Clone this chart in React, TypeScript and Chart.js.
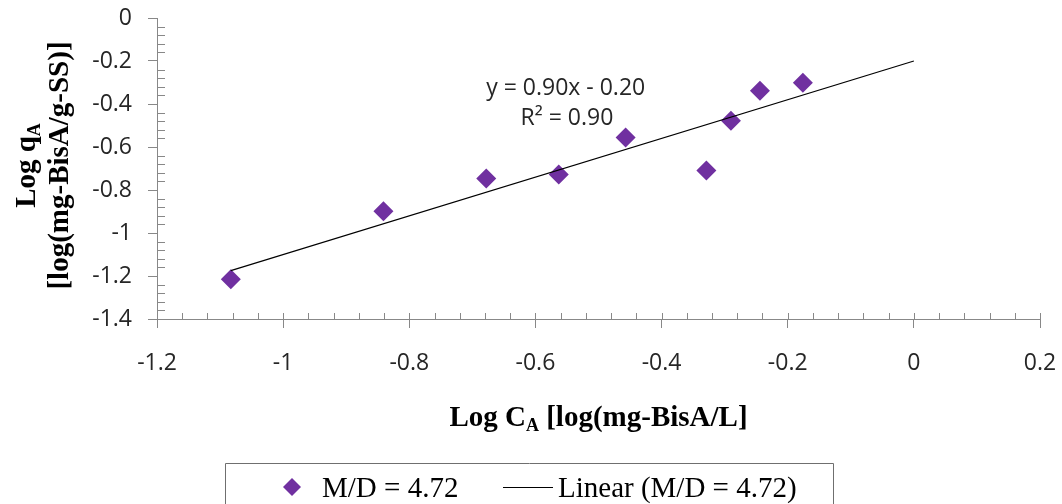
import React, { useEffect, useRef } from 'react';
import { Chart, registerables } from 'chart.js';

Chart.register(...registerables);

// ---- data ----
const LOG_CA = [-1.083, -0.841, -0.678, -0.563, -0.457, -0.329, -0.29, -0.244, -0.176];
const LOG_QA = [-1.215, -0.899, -0.746, -0.728, -0.556, -0.709, -0.478, -0.338, -0.301];
const SERIES_LABEL = 'M/D = 4.72';
const TREND_LABEL = 'Linear (M/D = 4.72)';
const SLOPE = 0.9;
const INTERCEPT = -0.2;
const TREND_X_END = 0;
const EQUATION_LINES = ['y = 0.90x - 0.20', 'R² = 0.90'];
const X_RANGE = [-1.2, 0.2];
const Y_RANGE = [-1.4, 0];
const MAJOR_STEP = 0.2;
const MINOR_STEP = 0.04;

const PURPLE = '#7030A0';
const AXIS_GRAY = '#888888';
const TEXT_DARK = '#262626';
const SERIF = '"Liberation Serif", "Times New Roman", serif';
const SANS = '"Open Sans", "Noto Sans", sans-serif';

type Part = { text: string; sub?: boolean };

function drawRich(ctx: CanvasRenderingContext2D, parts: Part[], cx: number, cy: number, size: number, weight: string) {
  const subSize = Math.round(size * 0.62);
  let total = 0;
  const widths = parts.map((p) => {
    ctx.font = `${weight} ${p.sub ? subSize : size}px ${SERIF}`;
    const w = ctx.measureText(p.text).width;
    total += w;
    return w;
  });
  let x = cx - total / 2;
  ctx.textAlign = 'left';
  ctx.textBaseline = 'alphabetic';
  const base = cy + size * 0.33;
  parts.forEach((p, i) => {
    ctx.font = `${weight} ${p.sub ? subSize : size}px ${SERIF}`;
    ctx.fillText(p.text, x, p.sub ? base + size * 0.2 : base);
    x += widths[i];
  });
}

const decorPlugin = {
  id: 'decor',
  afterDraw(chart: any) {
    const ctx: CanvasRenderingContext2D = chart.ctx;
    const xs = chart.scales.x;
    const ys = chart.scales.y;
    const area = chart.chartArea;
    ctx.save();
    // minor / inner ticks
    ctx.strokeStyle = AXIS_GRAY;
    ctx.lineWidth = 1;
    ctx.beginPath();
    const nx = Math.round((X_RANGE[1] - X_RANGE[0]) / MINOR_STEP);
    for (let i = 0; i <= nx; i++) {
      const v = X_RANGE[0] + i * MINOR_STEP;
      const px = Math.round(xs.getPixelForValue(v)) + 0.5;
      ctx.moveTo(px, area.bottom);
      ctx.lineTo(px, area.bottom - 6);
    }
    const ny = Math.round((Y_RANGE[1] - Y_RANGE[0]) / MINOR_STEP);
    for (let i = 0; i <= ny; i++) {
      if (i % 5 === 0) continue;
      const v = Y_RANGE[0] + i * MINOR_STEP;
      const py = Math.round(ys.getPixelForValue(v)) + 0.5;
      ctx.moveTo(area.left, py);
      ctx.lineTo(area.left + 8, py);
    }
    ctx.stroke();

    // equation annotation
    ctx.fillStyle = TEXT_DARK;
    ctx.font = `23px ${SANS}`;
    ctx.textAlign = 'center';
    ctx.textBaseline = 'middle';
    ctx.fillText(EQUATION_LINES[0], xs.getPixelForValue(-0.552), ys.getPixelForValue(-0.327));
    ctx.fillText(EQUATION_LINES[1], xs.getPixelForValue(-0.55), ys.getPixelForValue(-0.467));

    // axis titles
    ctx.fillStyle = '#000000';
    drawRich(ctx, [{ text: 'Log C' }, { text: 'A', sub: true }, { text: ' [log(mg-BisA/L]' }], (area.left + area.right) / 2, 416, 29, 'bold');
    ctx.save();
    ctx.translate(25, (area.top + area.bottom) / 2 - 3);
    ctx.rotate(-Math.PI / 2);
    drawRich(ctx, [{ text: 'Log q' }, { text: 'A', sub: true }], 0, 0, 29, 'bold');
    ctx.restore();
    ctx.save();
    ctx.translate(58, (area.top + area.bottom) / 2 - 3);
    ctx.rotate(-Math.PI / 2);
    drawRich(ctx, [{ text: '[log(mg-BisA/g-SS)]' }], 0, 0, 29, 'bold');
    ctx.restore();

    // legend
    ctx.strokeStyle = '#6f6f6f';
    ctx.lineWidth = 1;
    ctx.beginPath();
    ctx.moveTo(225.5, 520);
    ctx.lineTo(225.5, 463.5);
    ctx.lineTo(833.5, 463.5);
    ctx.lineTo(833.5, 520);
    ctx.stroke();
    const ly = 487;
    ctx.fillStyle = PURPLE;
    ctx.beginPath();
    ctx.moveTo(292, ly - 9);
    ctx.lineTo(301, ly);
    ctx.lineTo(292, ly + 9);
    ctx.lineTo(283, ly);
    ctx.closePath();
    ctx.fill();
    ctx.fillStyle = '#000000';
    ctx.font = `29px ${SERIF}`;
    ctx.textAlign = 'left';
    ctx.textBaseline = 'alphabetic';
    ctx.fillText(chart.data.datasets[0].label, 322, ly + 10);
    ctx.strokeStyle = '#000000';
    ctx.beginPath();
    ctx.moveTo(503, ly + 0.5);
    ctx.lineTo(553, ly + 0.5);
    ctx.stroke();
    ctx.fillText(chart.data.datasets[1].label, 558, ly + 10);
    ctx.restore();
  },
};

function fmt(v: number) {
  return String(Number(Number(v).toFixed(2)));
}

export default function App() {
  const ref = useRef<HTMLCanvasElement | null>(null);
  useEffect(() => {
    if (!ref.current) return;
    const points = LOG_CA.map((x, i) => ({ x, y: LOG_QA[i] }));
    const xMin = Math.min(...LOG_CA);
    const trend = [
      { x: xMin, y: SLOPE * xMin + INTERCEPT },
      { x: TREND_X_END, y: SLOPE * TREND_X_END + INTERCEPT },
    ];
    const chart = new Chart(ref.current, {
      type: 'scatter',
      data: {
        datasets: [
          {
            label: SERIES_LABEL,
            data: points,
            pointStyle: 'rectRot',
            pointRadius: 10,
            pointBackgroundColor: PURPLE,
            pointBorderWidth: 0,
            backgroundColor: PURPLE,
            borderColor: PURPLE,
            order: 1,
          },
          {
            label: TREND_LABEL,
            data: trend,
            showLine: true,
            borderColor: '#000000',
            borderWidth: 1.2,
            pointRadius: 0,
            order: 0,
          } as any,
        ],
      },
      options: {
        animation: false,
        responsive: false,
        devicePixelRatio: 1,
        layout: { padding: { top: 18, right: 22, left: 0, bottom: 0 } },
        plugins: { legend: { display: false }, tooltip: { enabled: false } },
        scales: {
          x: {
            type: 'linear',
            min: X_RANGE[0],
            max: X_RANGE[1],
            afterFit: (s: any) => {
              s.height = 504 - 319;
              s.paddingLeft = 0;
              s.paddingRight = 0;
            },
            grid: { drawOnChartArea: false, tickLength: 9, color: AXIS_GRAY },
            border: { color: AXIS_GRAY },
            ticks: {
              stepSize: MAJOR_STEP,
              padding: 22,
              color: TEXT_DARK,
              font: { family: SANS, size: 23 },
              callback: (v: any) => fmt(v),
              maxRotation: 0,
            },
          },
          y: {
            type: 'linear',
            min: Y_RANGE[0],
            max: Y_RANGE[1],
            afterFit: (s: any) => {
              s.width = 157;
              s.paddingTop = 0;
              s.paddingBottom = 0;
            },
            grid: { drawOnChartArea: false, tickLength: 9, color: AXIS_GRAY },
            border: { color: AXIS_GRAY },
            ticks: {
              stepSize: MAJOR_STEP,
              padding: 16,
              color: TEXT_DARK,
              font: { family: SANS, size: 23 },
              callback: (v: any) => fmt(v),
            },
          },
        },
      },
      plugins: [decorPlugin],
    } as any);
    return () => chart.destroy();
  }, []);
  return (
    <div style={{ position: 'absolute', left: 0, top: 0, width: 1062, height: 504, background: '#ffffff' }}>
      <canvas ref={ref} width={1062} height={504} />
    </div>
  );
}
